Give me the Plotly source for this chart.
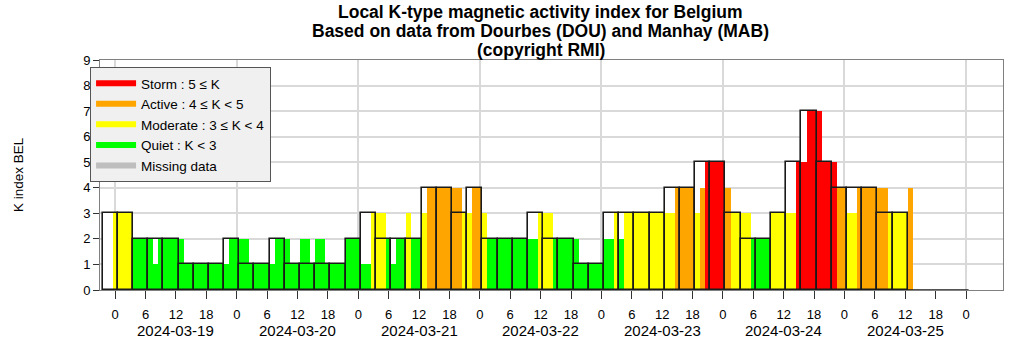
import pandas as pd
import plotly.graph_objects as go

# ---------------- data ----------------
# 3-hourly K index (outlined bars), first interval centred 2024-03-18 23:00
k3_start = "2024-03-18 23:00"
k3_values = [3, 3, 2, 2, 2, 1, 1, 1, 2, 1, 1, 2, 1, 1, 1, 1, 2, 3, 2, 2,
             2, 4, 4, 3, 4, 2, 2, 2, 3, 2, 2, 1, 1, 3, 3, 3, 3, 4, 4, 5,
             5, 3, 2, 2, 3, 5, 7, 5, 4, 4, 4, 3, 3]
k3_future = 4  # intervals still without data up to the end of 2024-03-25

# hourly (running) K index, coloured bars, first hour centred 2024-03-18 22:00
kh_start = "2024-03-18 22:00"
kh_values = [None, None, 3,
             3, 3, 3, 2, 2, 2, 2, 1, 2, 2, 2, 2, 2, 1, 1, 1, 1, 1, 1, 1, 1,
             1, 2, 2, 2, 2, 1, 1, 1, 1, 1, 2, 2, 2, 1, 1, 2, 2, 1, 2, 2, 1,
             1, 1, 1, 2, 2, 2, 1, 1, 3, 3, 3, 2, 1, 2, 2, 3, 2, 2, 3, 4, 4,
             4, 4, 4, 4, 4, 3, 3, 4, 4, 3, 2, 2, 2, 2, 2, 2, 2, 2, 2, 2, 3,
             3, 3, 2, 2, 2, 2, 2, 1, 1, 1, 1, 1, 2, 2, 3, 2, 3, 3, 3, 3, 3,
             3, 3, 3, 3, 3, 4, 4, 4, 4, 3, 4, 5, 5, 5, 5, 4, 3, 3, 3, 3, 2,
             2, 2, 2, 3, 3, 3, 3, 3, 5, 5, 7, 7, 7, 5, 5, 5, 4, 4, 3, 3, 4,
             4, 4, 4, 4, 4, 3, 3, 3, 3,
             4]

days = ["2024-03-19", "2024-03-20", "2024-03-21", "2024-03-22",
        "2024-03-23", "2024-03-24", "2024-03-25"]
hour_labels = ["0", "6", "12", "18"]

legend_names = ["Storm : 5 \u2264 K", "Active : 4 \u2264 K < 5",
                "Moderate : 3 \u2264 K < 4", "Quiet : K < 3", "Missing data"]
legend_colors = ["#FF0000", "#FFA500", "#FFFF00", "#00FF00", "#BEBEBE"]

title_lines = ["Local K-type magnetic activity index for Belgium",
               "Based on data from Dourbes (DOU) and Manhay (MAB)",
               "(copyright RMI)"]

# ---------------- derived ----------------
H = pd.Timedelta(hours=1)
k3_x = pd.date_range(k3_start, periods=len(k3_values), freq="3h")
kh_x = pd.date_range(kh_start, periods=len(kh_values), freq="1h")


def kcolor(v):
    if v is None:
        return "#BEBEBE"
    if v >= 5:
        return legend_colors[0]
    if v >= 4:
        return legend_colors[1]
    if v >= 3:
        return legend_colors[2]
    return legend_colors[3]


kh_colors = [kcolor(v) for v in kh_values]

fut_start = k3_x[-1] + 1.5 * H
fut_end = fut_start + k3_future * 3 * H

tick_vals = []
tick_text = []
for d in days + ["2024-03-26"]:
    for h in hour_labels:
        tick_vals.append(pd.Timestamp(d) + int(h) * H)
        tick_text.append(h)
        if d == "2024-03-26":
            break

x_range = [pd.Timestamp(days[0]) - 3 * H, pd.Timestamp(days[0]) + 175.3 * H]
ms3 = 3 * 3600 * 1000
ms1 = 3600 * 1000
outline_col = "#1a1a1a"

fig = go.Figure()

# white fill of 3-hour bars
fig.add_trace(go.Bar(x=k3_x, y=k3_values, width=ms3, marker=dict(color="white", line=dict(width=0)),
                     showlegend=False, hoverinfo="skip"))
# hourly coloured bars
fig.add_trace(go.Bar(x=kh_x, y=kh_values, width=ms1, marker=dict(color=kh_colors, line=dict(width=0)),
                     showlegend=False))
# outlines of 3-hour bars
fig.add_trace(go.Bar(x=k3_x, y=k3_values, width=ms3,
                     marker=dict(color="rgba(0,0,0,0)", line=dict(color=outline_col, width=1.6)),
                     showlegend=False))
# empty (future) intervals along the base line
fig.add_trace(go.Scatter(x=[fut_start, fut_end], y=[0, 0], mode="lines",
                         line=dict(color=outline_col, width=1.6), showlegend=False, hoverinfo="skip"))

for name, col in zip(legend_names, legend_colors):
    fig.add_trace(go.Scatter(x=[None], y=[None], mode="lines", name=name,
                             line=dict(color=col, width=6), xaxis="x2"))

annotations = [dict(x=pd.Timestamp(d) + 12 * H, y=-0.178, xref="x", yref="paper", text=d,
                    showarrow=False, yanchor="middle", xanchor="center", font=dict(size=15))
               for d in days]
annotations.append(dict(x=-0.0908, y=0.5, xref="paper", yref="paper", text="K index BEL",
                        textangle=-90, showarrow=False, xanchor="center", yanchor="middle",
                        font=dict(size=13.5)))
for line, yc in zip(title_lines, [1.2087, 1.1261, 1.0435]):
    annotations.append(dict(x=0.488, y=yc, xref="paper", yref="paper", text="<b>" + line + "</b>",
                            showarrow=False, xanchor="center", yanchor="middle",
                            font=dict(size=17.5)))

fig.update_layout(
    width=1021, height=342,
    margin=dict(l=100, r=18, t=60, b=52),
    paper_bgcolor="white", plot_bgcolor="white",
    barmode="overlay", bargap=0,
    font=dict(family="Liberation Sans, Arial, sans-serif", size=12, color="black"),
    xaxis=dict(type="date", range=x_range, tickmode="array", tickvals=tick_vals, ticktext=tick_text,
               ticks="outside", ticklen=8, tickcolor="#333", showgrid=False, showline=True,
               linecolor="#808080", linewidth=1, mirror=True, zeroline=False,
               ticklabelstandoff=4, tickfont=dict(size=13)),
    xaxis2=dict(type="date", overlaying="x", anchor="y", range=x_range, tickmode="array",
                tickvals=[pd.Timestamp(d) for d in days + ["2024-03-26"]], showgrid=True,
                gridcolor="#d9d9d9", gridwidth=1.5, showticklabels=False, ticks="", showline=False,
                zeroline=False),
    yaxis=dict(range=[0, 9], tickmode="array", tickvals=list(range(10)), ticks="outside", ticklen=6,
               tickcolor="#333", showgrid=True, gridcolor="#d9d9d9", gridwidth=1.5, showline=True,
               linecolor="#808080", linewidth=1, mirror=True, zeroline=False, tickfont=dict(size=13)),
    legend=dict(x=-0.011, y=0.9696, xanchor="left", yanchor="top", bgcolor="#f0f0f0",
                bordercolor="#555555", borderwidth=1, font=dict(size=13.5), itemwidth=40,
                tracegroupgap=0),
    annotations=annotations,
)

fig.write_html("out.html")
